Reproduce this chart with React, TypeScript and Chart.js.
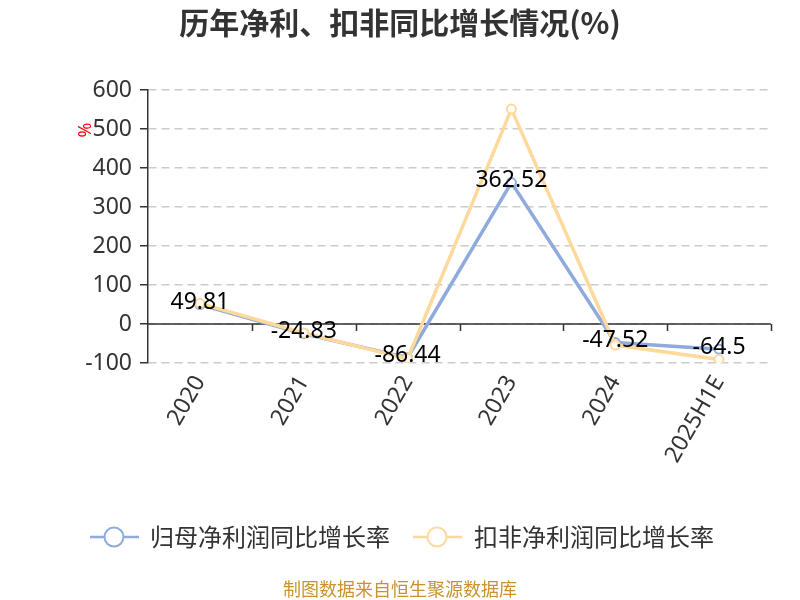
import React, { useEffect, useRef } from 'react';
import { Chart, registerables } from 'chart.js';

Chart.register(...registerables);

const categories = ['2020', '2021', '2022', '2023', '2024', '2025H1E'];
const netProfitGrowth = [49.81, -24.83, -86.44, 362.52, -47.52, -64.5];
const deductedProfitGrowth = [53, -23, -89, 551, -54, -91];
const seriesNames = ['归母净利润同比增长率', '扣非净利润同比增长率'];
const seriesColors = ['#8faadc', '#ffd89b'];
const yMin = -100;
const yMax = 600;
const yStep = 100;
const titleText = '历年净利、扣非同比增长情况(%)';
const unitText = '%';
const sourceText = '制图数据来自恒生聚源数据库';

const LATIN = "'Noto Sans', 'Noto Sans CJK SC', sans-serif";
const CJK = "'Noto Sans CJK SC', 'Noto Sans', sans-serif";

const overlay = {
  id: 'overlay',
  beforeDatasetsDraw(chart: any) {
    const { ctx, scales } = chart;
    const x = scales.x;
    const y = scales.y;
    const y0 = y.getPixelForValue(0);
    ctx.save();
    ctx.strokeStyle = '#333';
    ctx.lineWidth = 1.5;
    ctx.setLineDash([]);
    ctx.beginPath();
    ctx.moveTo(x.left, y0);
    ctx.lineTo(x.right, y0);
    const n = categories.length;
    const w = (x.right - x.left) / n;
    for (let i = 1; i <= n; i++) {
      const px = Math.round(x.left + w * i) + 0.5;
      ctx.moveTo(px, y0);
      ctx.lineTo(px, y0 + 7);
    }
    ctx.stroke();
    ctx.restore();
  },
  afterDatasetsDraw(chart: any) {
    const { ctx } = chart;
    const meta = chart.getDatasetMeta(0);
    ctx.save();
    ctx.font = `23px ${LATIN}`;
    ctx.fillStyle = '#000';
    ctx.textAlign = 'center';
    ctx.textBaseline = 'middle';
    meta.data.forEach((pt: any, i: number) => {
      ctx.fillText(String(netProfitGrowth[i]), pt.x, pt.y - 2);
    });
    ctx.restore();
  },
  afterDraw(chart: any) {
    const { ctx } = chart;
    ctx.save();
    // title
    ctx.font = `bold 30px ${CJK}`;
    ctx.fillStyle = '#333';
    ctx.textAlign = 'center';
    ctx.textBaseline = 'middle';
    ctx.fillText(titleText, 400, 23);
    // unit
    ctx.save();
    ctx.translate(86, 130);
    ctx.rotate(-Math.PI / 2);
    ctx.font = `18px ${LATIN}`;
    ctx.fillStyle = '#ff0000';
    ctx.fillText(unitText, 0, 0);
    ctx.restore();
    // legend
    ctx.font = `24px ${CJK}`;
    const ly = 537;
    const items = [
      { x: 90, tx: 150 },
      { x: 413, tx: 474 },
    ];
    items.forEach((it, i) => {
      ctx.strokeStyle = seriesColors[i];
      ctx.lineWidth = 2.5;
      ctx.beginPath();
      ctx.moveTo(it.x, ly);
      ctx.lineTo(it.x + 49, ly);
      ctx.stroke();
      ctx.beginPath();
      ctx.arc(it.x + 24, ly, 9.5, 0, Math.PI * 2);
      ctx.fillStyle = '#fff';
      ctx.fill();
      ctx.lineWidth = 2;
      ctx.stroke();
      ctx.fillStyle = '#333';
      ctx.textAlign = 'left';
      ctx.fillText(seriesNames[i], it.tx, ly);
    });
    // source
    ctx.font = `18px ${CJK}`;
    ctx.fillStyle = '#c9922e';
    ctx.textAlign = 'center';
    ctx.fillText(sourceText, 400, 589);
    ctx.restore();
  },
};

export default function App() {
  const canvasRef = useRef<HTMLCanvasElement | null>(null);

  useEffect(() => {
    if (!canvasRef.current) return;
    const chart = new Chart(canvasRef.current, {
      type: 'line',
      data: {
        labels: categories,
        datasets: [
          {
            label: seriesNames[0],
            data: netProfitGrowth,
            order: 1,
            borderColor: seriesColors[0],
            backgroundColor: '#fff',
            pointBackgroundColor: '#fff',
            pointBorderColor: seriesColors[0],
            pointRadius: 4.5,
            pointBorderWidth: 2,
            borderWidth: 3.5,
            tension: 0,
          },
          {
            label: seriesNames[1],
            data: deductedProfitGrowth,
            order: 0,
            borderColor: seriesColors[1],
            backgroundColor: '#fff',
            pointBackgroundColor: '#fff',
            pointBorderColor: seriesColors[1],
            pointRadius: 4.5,
            pointBorderWidth: 2,
            borderWidth: 3.5,
            tension: 0,
          },
        ],
      },
      options: {
        animation: false,
        responsive: true,
        maintainAspectRatio: false,
        layout: { padding: { top: 90, right: 29, left: 0, bottom: 0 } },
        plugins: {
          legend: { display: false },
          title: { display: false },
          tooltip: { enabled: false },
        },
        scales: {
          x: {
            type: 'category',
            offset: true,
            grid: { display: false, drawTicks: false },
            border: { display: false },
            ticks: {
              color: '#333',
              font: { size: 23, family: LATIN },
              minRotation: 60,
              maxRotation: 60,
              padding: 8,
            },
            afterFit: (s: any) => {
              s.height = 237;
            },
          },
          y: {
            min: yMin,
            max: yMax,
            ticks: {
              stepSize: yStep,
              color: '#333',
              font: { size: 23, family: LATIN },
              padding: 8,
            },
            grid: {
              color: '#cccccc',
              lineWidth: 1.5,
              tickColor: '#333',
              tickLength: 8,
              tickBorderDash: [],
            },
            border: { display: true, color: '#333', width: 1.5, dash: [8, 5] },
            afterFit: (s: any) => {
              s.width = 148;
            },
          },
        },
      },
      plugins: [overlay],
    } as any);
    return () => chart.destroy();
  }, []);

  return (
    <div style={{ position: 'fixed', left: 0, top: 0, width: 800, height: 600, background: '#fff' }}>
      <canvas ref={canvasRef} />
    </div>
  );
}
